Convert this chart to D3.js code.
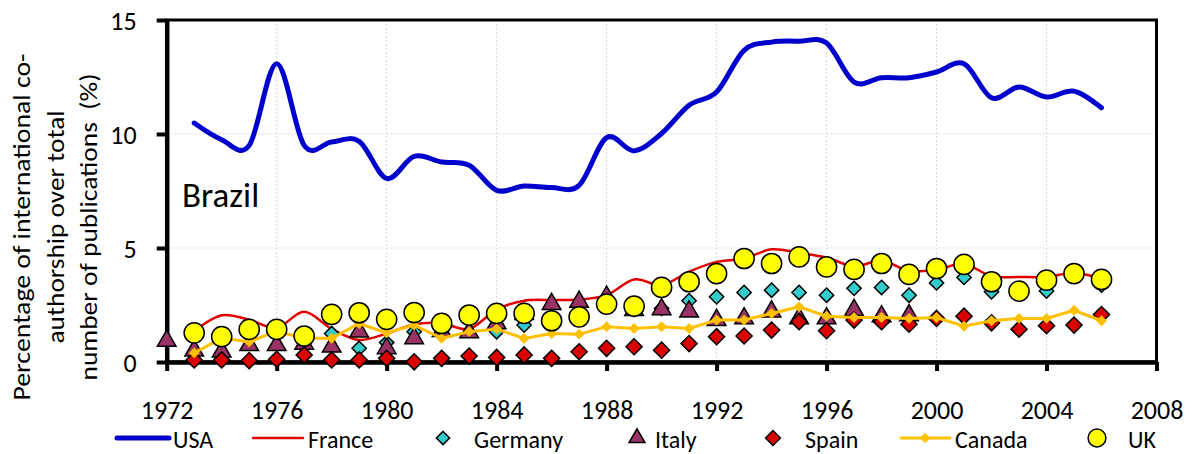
<!DOCTYPE html>
<html>
<head>
<meta charset="utf-8">
<script src="https://cdn.jsdelivr.net/npm/d3@7"></script>
<style>
body { margin: 0; background: #fff; }
svg { font-family: Carlito, Calibri, Lato, sans-serif; }
</style>
</head>
<body>
<div id="chart"></div>
<script>
var width = 1194, height = 454;

// data (1972..2006), null = no point
var years = [1972,1973,1974,1975,1976,1977,1978,1979,1980,1981,1982,1983,1984,1985,1986,1987,1988,1989,
  1990,1991,1992,1993,1994,1995,1996,1997,1998,1999,2000,2001,2002,2003,2004,2005,2006];
var usa = [null,10.48,9.75,9.5,13.08,9.5,9.65,9.68,8.05,9.02,8.77,8.63,7.53,7.72,7.65,7.75,9.84,9.26,
  10.02,11.26,11.84,13.67,14.03,14.07,13.99,12.28,12.47,12.47,12.72,13.08,11.59,12.06,11.62,11.88,11.15];
var france = [null,1.35,2.05,1.85,1.5,2.2,1.45,0.97,1.25,1.65,1.7,1.45,2.3,2.69,2.72,2.74,2.93,3.62,
  3.37,3.96,4.39,4.54,4.94,4.79,4.58,4.2,4.44,4.0,4.05,4.3,3.76,3.73,3.73,3.9,3.65];
var germany = [null,null,null,null,null,null,1.25,0.6,0.85,1.33,1.65,2.0,1.33,1.62,1.8,1.95,2.6,2.3,
  2.35,2.69,2.86,3.05,3.15,3.05,2.93,3.23,3.27,2.93,3.47,3.71,3.08,3.1,3.11,3.8,3.37];
var italy = [0.93,0.5,0.45,0.74,0.74,0.8,0.67,1.33,0.6,1.04,1.35,1.3,1.69,2.1,2.54,2.64,2.86,2.28,
  2.31,2.21,1.84,1.91,2.21,1.91,1.91,2.28,2.0,2.05,null,null,null,null,null,null,null];
var spain = [null,0.09,0.09,0.06,0.12,0.31,0.09,0.09,0.16,0.01,0.16,0.26,0.2,0.31,0.16,0.45,0.6,0.67,
  0.52,0.81,1.11,1.14,1.4,1.77,1.37,1.84,1.77,1.66,1.91,2.01,1.72,1.44,1.59,1.62,2.08];
var canada = [null,0.4,1.04,0.89,1.35,1.04,1.04,1.69,1.28,1.62,1.04,1.33,1.45,1.03,1.25,1.22,1.55,1.47,
  1.55,1.47,1.84,1.84,2.13,2.42,2.01,1.95,1.95,1.91,1.95,1.57,1.81,1.91,1.91,2.27,1.81];
var uk = [null,1.28,1.11,1.43,1.43,1.14,2.09,2.16,1.87,2.17,1.69,2.06,2.13,2.13,1.81,1.98,2.54,2.45,
  3.27,3.52,3.88,4.54,4.32,4.61,4.17,4.06,4.32,3.84,4.1,4.28,3.52,3.11,3.59,3.88,3.62];

var xTicks = [1972,1976,1980,1984,1988,1992,1996,2000,2004,2008];
var yTicks = [0,5,10,15];
var yTitle = ["Percentage of international co-", "authorship over total", "number of publications  (%)"];
var panelLabel = "Brazil";

var svg = d3.select("#chart").append("svg")
    .attr("width", width)
    .attr("height", height);

var x = d3.scaleLinear().domain([1972, 2008]).range([166.7, 1156.5]);
var y = d3.scaleLinear().domain([0, 15]).range([362, 20]);

function pts(vals) {
  return years.map(function(yr, i) { return [yr, vals[i]]; })
    .filter(function(d) { return d[1] != null; });
}

//gridlines
svg.append("g").selectAll("line.vg")
  .data(xTicks.slice(1, -1))
  .enter().append("line")
  .attr("x1", function(d) { return x(d); }).attr("x2", function(d) { return x(d); })
  .attr("y1", y(15)).attr("y2", y(0))
  .attr("stroke", "#d9d9d9").attr("stroke-width", 1).attr("stroke-dasharray", "2,2");
svg.append("g").selectAll("line.hg")
  .data(yTicks.slice(1, -1))
  .enter().append("line")
  .attr("x1", x(1972)).attr("x2", x(2008))
  .attr("y1", function(d) { return y(d); }).attr("y2", function(d) { return y(d); })
  .attr("stroke", "#d9d9d9").attr("stroke-width", 1).attr("stroke-dasharray", "2,2");

//frame (top and right)
svg.append("rect")
  .attr("x", x(1972)).attr("y", y(15))
  .attr("width", x(2008) - x(1972)).attr("height", y(0) - y(15))
  .attr("fill", "none").attr("stroke", "#000").attr("stroke-width", 3);

//axes
var xAxis = svg.append("g")
  .attr("transform", "translate(0," + y(0) + ")")
  .call(d3.axisBottom(x).tickValues(xTicks).tickFormat(d3.format("d")).tickSize(9).tickSizeOuter(0).tickPadding(30));
var yAxis = svg.append("g")
  .attr("transform", "translate(" + x(1972) + ",0)")
  .call(d3.axisLeft(y).tickValues(yTicks).tickSize(10).tickSizeOuter(0).tickPadding(20));
[xAxis, yAxis].forEach(function(a) {
  a.select(".domain").attr("stroke", "#000").attr("stroke-width", 4.5);
  a.selectAll(".tick line").attr("stroke", "#000").attr("stroke-width", 4);
  a.selectAll("text").attr("fill", "#000").style("font-size", "26px").style("font-family", "Carlito, Calibri, Lato, sans-serif");
});
yAxis.selectAll("text").attr("dy", "0.36em");

//y title
var titleLens = [347, 233, 307];
svg.append("g").selectAll("text")
  .data(yTitle)
  .enter().append("text")
  .attr("transform", function(d, i) { return "translate(" + (30 + i * 33.5) + ",227) rotate(-90)"; })
  .attr("text-anchor", "middle")
  .attr("textLength", function(d, i) { return titleLens[i]; })
  .attr("lengthAdjust", "spacingAndGlyphs")
  .style("font-size", "25px")
  .style("white-space", "pre")
  .text(function(d) { return d; });

svg.append("text")
  .attr("x", 182).attr("y", 207)
  .style("font-size", "35px")
  .text(panelLabel);

//series
var smooth = d3.line().x(function(d) { return x(d[0]); }).y(function(d) { return y(d[1]); })
  .curve(d3.curveCardinal.tension(0));
var straight = d3.line().x(function(d) { return x(d[0]); }).y(function(d) { return y(d[1]); });

var plot = svg.append("g");

plot.append("path").datum(pts(usa))
  .attr("d", smooth).attr("fill", "none")
  .attr("stroke", "#0000cc").attr("stroke-width", 5).attr("stroke-linecap", "round");
plot.append("path").datum(pts(france))
  .attr("d", smooth).attr("fill", "none")
  .attr("stroke", "#e00000").attr("stroke-width", 2.5);

function markers(vals, type, size, fill, stroke) {
  plot.append("g").selectAll("path")
    .data(pts(vals))
    .enter().append("path")
    .attr("transform", function(d) { return "translate(" + x(d[0]) + "," + y(d[1]) + ")"; })
    .attr("d", d3.symbol().type(type).size(size))
    .attr("fill", fill)
    .attr("stroke", stroke)
    .attr("stroke-width", stroke == "none" ? 0 : 1.5);
}

markers(germany, d3.symbolDiamond2, 130, "#33cccc", "#000");
markers(italy, d3.symbolTriangle, 150, "#993366", "#000");
markers(spain, d3.symbolDiamond2, 165, "#dd0000", "#000");

plot.append("path").datum(pts(canada))
  .attr("d", straight).attr("fill", "none")
  .attr("stroke", "#ffc000").attr("stroke-width", 3);
markers(canada, d3.symbolDiamond2, 75, "#ffc000", "none");

markers(uk, d3.symbolCircle, 320, "#ffff00", "#000");

//legend
var lg = svg.append("g");
var ly = 438;
function legendText(tx, label) {
  lg.append("text").attr("x", tx).attr("y", 448).style("font-size", "24px").text(label);
}
function legendLine(x1, x2, color, w) {
  lg.append("line").attr("x1", x1).attr("x2", x2).attr("y1", ly).attr("y2", ly)
    .attr("stroke", color).attr("stroke-width", w).attr("stroke-linecap", "round");
}
function legendSym(cx, type, size, fill, stroke) {
  lg.append("path").attr("transform", "translate(" + cx + "," + ly + ")")
    .attr("d", d3.symbol().type(type).size(size))
    .attr("fill", fill).attr("stroke", stroke).attr("stroke-width", stroke == "none" ? 0 : 1.5);
}
legendLine(117, 169, "#0000cc", 5); legendText(173, "USA");
legendLine(253, 303, "#e00000", 2.5); legendText(308, "France");
legendSym(443, d3.symbolDiamond2, 110, "#33cccc", "#000"); legendText(474, "Germany");
legendSym(637, d3.symbolTriangle, 110, "#993366", "#000"); legendText(655, "Italy");
legendSym(773, d3.symbolDiamond2, 140, "#dd0000", "#000"); legendText(805, "Spain");
legendLine(901, 950, "#ffc000", 3); legendSym(925, d3.symbolDiamond2, 70, "#ffc000", "none"); legendText(955, "Canada");
legendSym(1097, d3.symbolCircle, 250, "#ffff00", "#000"); legendText(1128, "UK");
</script>
</body>
</html>
